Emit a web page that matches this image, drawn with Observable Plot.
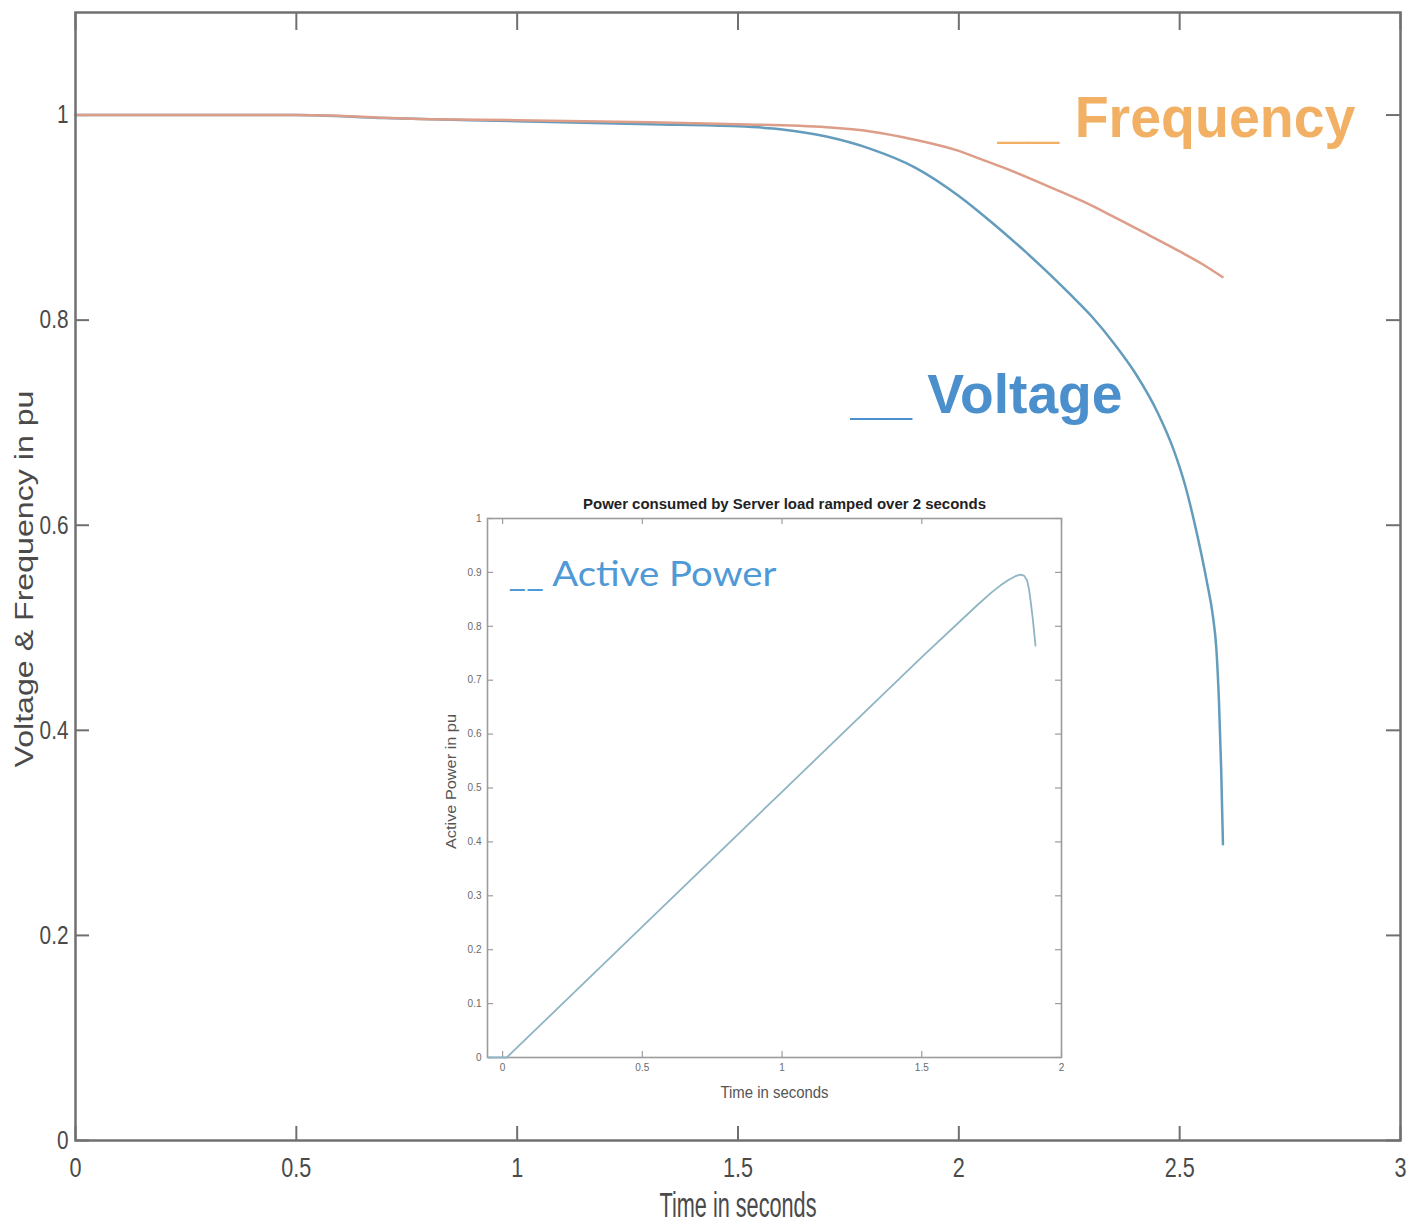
<!DOCTYPE html>
<html>
<head>
<meta charset="utf-8">
<script src="https://cdn.jsdelivr.net/npm/d3@7"></script>
<script src="https://cdn.jsdelivr.net/npm/@observablehq/plot@0.6"></script>
<style>
  body { margin: 0; background: #fff; }
  #chart { position: relative; width: 1421px; height: 1224px; background: #fff; }
  #chart svg { overflow: visible; }
  #inset { position: absolute; left: 420px; top: 480px; }
</style>
</head>
<body>
<div id="chart"></div>
<script>
// ---- Bus voltage and frequency during the load ramp (per unit) ----
const timeVoltage = [0, 0.5, 0.7, 1.0, 1.3, 1.5, 1.6, 1.7, 1.8, 1.9, 2.0, 2.05, 2.1, 2.15, 2.2, 2.25, 2.3, 2.35, 2.4, 2.45, 2.486, 2.513, 2.54, 2.562, 2.575, 2.583, 2.589, 2.594, 2.598];
const voltage     = [1.0, 1.0, 0.997, 0.994, 0.991, 0.989, 0.986, 0.979, 0.967, 0.949, 0.921, 0.904, 0.886, 0.867, 0.847, 0.826, 0.804, 0.778, 0.748, 0.710, 0.674, 0.638, 0.590, 0.544, 0.512, 0.480, 0.428, 0.362, 0.289];

const timeFrequency = [0, 0.5, 0.8, 1.0, 1.3, 1.5, 1.7, 1.8, 1.9, 2.0, 2.05, 2.1, 2.2, 2.28, 2.35, 2.43, 2.5, 2.55, 2.597];
const frequency     = [1.0, 1.0, 0.996, 0.995, 0.993, 0.991, 0.988, 0.984, 0.976, 0.965, 0.957, 0.949, 0.931, 0.916, 0.901, 0.883, 0.867, 0.855, 0.842];

// ---- Active power drawn by the server load ----
const timePower   = [-0.05, 0.015, 0.5, 1.0, 1.5, 1.7, 1.75, 1.782, 1.81, 1.835, 1.853, 1.866, 1.877, 1.884, 1.89, 1.897, 1.907];
const activePower = [0, 0, 0.243, 0.493, 0.743, 0.840, 0.863, 0.876, 0.886, 0.893, 0.896, 0.894, 0.885, 0.868, 0.845, 0.815, 0.764];

// ---- Tick values ----
const mainTimeTicks  = [0, 0.5, 1, 1.5, 2, 2.5, 3];
const mainLevelTicks = [0, 0.2, 0.4, 0.6, 0.8, 1];
const insetTimeTicks  = [0, 0.5, 1, 1.5, 2];
const insetPowerTicks = [0, 0.1, 0.2, 0.3, 0.4, 0.5, 0.6, 0.7, 0.8, 0.9, 1];

// ---- Text ----
const mainXLabel = "Time in seconds";
const mainYLabel = "Voltage & Frequency in pu";
const frequencyKey = "__ Frequency";
const voltageKey = "__ Voltage";
const insetTitle = "Power consumed by Server load ramped over 2 seconds";
const insetXLabel = "Time in seconds";
const insetYLabel = "Active Power in pu";
const powerKey = "__ Active Power";

const font = "'Liberation Sans', Arial, Helvetica, sans-serif";
const axisColor = "#707070";
const labelColor = "#4a4a4a";

// ---------------- main chart ----------------
const W = 1421, H = 1224;
const mL = 75, mR = 21, mT = 12, mB = 84;
const fW = W - mL - mR, fH = H - mT - mB;
const tick = 14;

const main = Plot.plot({
  width: W, height: H,
  marginLeft: mL, marginRight: mR, marginTop: mT, marginBottom: mB,
  x: {domain: [0, 3], axis: null},
  y: {domain: [0, 1.1], axis: null},
  style: {fontFamily: font, background: "white"},
  marks: [
    // inward ticks on all four sides
    Plot.tickX(mainTimeTicks, {x: d => d, insetTop: fH - tick, stroke: axisColor, strokeWidth: 2}),
    Plot.tickX(mainTimeTicks, {x: d => d, insetBottom: fH - tick - 4, stroke: axisColor, strokeWidth: 2}),
    Plot.tickY(mainLevelTicks, {y: d => d, insetRight: fW - tick, stroke: axisColor, strokeWidth: 2}),
    Plot.tickY(mainLevelTicks, {y: d => d, insetLeft: fW - tick, stroke: axisColor, strokeWidth: 2}),
    Plot.line(voltage, {x: timeVoltage, y: voltage, stroke: "#639cbc", strokeWidth: 2.5, curve: "monotone-x"}),
    Plot.line(frequency, {x: timeFrequency, y: frequency, stroke: "#dd9d88", strokeWidth: 2.5, curve: "monotone-x"}),
    Plot.frame({stroke: axisColor, strokeWidth: 2.5}),
    // tick labels
    Plot.text(mainTimeTicks, {x: d => d, frameAnchor: "bottom", dy: 17, lineAnchor: "top", text: d => String(d),
      fontSize: 27, fill: labelColor}),
    Plot.text(mainLevelTicks, {y: d => d, frameAnchor: "left", dx: -7, textAnchor: "end", text: d => String(d),
      fontSize: 26, fill: labelColor}),
    // axis titles (the vertical one reads upward from its start)
    Plot.text([mainXLabel], {frameAnchor: "bottom", dy: 76, text: d => d, fontSize: 35, fill: labelColor}),
    Plot.text([mainYLabel], {frameAnchor: "left", dx: -51, dy: 191, rotate: -90, textAnchor: "start",
      text: d => d, fontSize: 25, fill: labelColor}),
    // series keys
    Plot.text([frequencyKey], {x: () => 2.0875, y: () => 0.9785, text: d => d, textAnchor: "start", lineAnchor: "bottom",
      fontSize: 57, fontWeight: "bold", fill: "#f1b064"}),
    Plot.text([voltageKey], {x: () => 1.7547, y: () => 0.7093, text: d => d, textAnchor: "start", lineAnchor: "bottom",
      fontSize: 56, fontWeight: "bold", fill: "#4b8fcc"})
  ]
});

// ---------------- inset: active power ----------------
const iW = 660, iH = 640;
const imL = 67, imR = 19, imT = 38, imB = 63;
const ifW = iW - imL - imR, ifH = iH - imT - imB;
const itick = 6;
const insetAxis = "#9c9c9c";
const insetLabel = "#6a6a6a";

const inset = Plot.plot({
  width: iW, height: iH,
  marginLeft: imL, marginRight: imR, marginTop: imT, marginBottom: imB,
  x: {domain: [-0.054, 2], axis: null},
  y: {domain: [0, 1], axis: null},
  style: {fontFamily: font, background: "white"},
  marks: [
    Plot.tickX(insetTimeTicks, {x: d => d, insetTop: ifH - itick, stroke: insetAxis, strokeWidth: 1.2}),
    Plot.tickX(insetTimeTicks, {x: d => d, insetBottom: ifH - itick, stroke: insetAxis, strokeWidth: 1.2}),
    Plot.tickY(insetPowerTicks, {y: d => d, insetRight: ifW - itick, stroke: insetAxis, strokeWidth: 1.2}),
    Plot.tickY(insetPowerTicks, {y: d => d, insetLeft: ifW - itick, stroke: insetAxis, strokeWidth: 1.2}),
    Plot.frame({stroke: insetAxis, strokeWidth: 1.6}),
    Plot.line(activePower, {x: timePower, y: activePower, stroke: "#8fb5c4", strokeWidth: 1.8}),
    Plot.text(insetTimeTicks, {x: d => d, frameAnchor: "bottom", dy: 6, lineAnchor: "top", text: d => String(d),
      fontSize: 10, fill: insetLabel}),
    Plot.text(insetPowerTicks, {y: d => d, frameAnchor: "left", dx: -6, textAnchor: "end", text: d => String(d),
      fontSize: 10, fill: insetLabel}),
    Plot.text([insetTitle], {frameAnchor: "top", dx: 10, dy: -19, text: d => d, fontSize: 14, fontWeight: "bold", fill: "#222"}),
    Plot.text([insetXLabel], {frameAnchor: "bottom", dy: 40, text: d => d, fontSize: 16, fill: "#555"}),
    Plot.text([insetYLabel], {frameAnchor: "left", dx: -36, dy: 61, rotate: -90, textAnchor: "start",
      text: d => d, fontSize: 14, fill: "#555"}),
    Plot.text([powerKey], {x: () => 0.0214, y: () => 0.874, text: d => d, textAnchor: "start", lineAnchor: "bottom",
      fontFamily: "Lato, 'Open Sans', sans-serif", fontSize: 34, fill: "#4f9ad6"})
  ]
});
inset.id = "inset";

const chart = document.getElementById("chart");
chart.appendChild(main);
chart.appendChild(inset);

// Text in this figure is set narrow: fit each label to its measured width.
function setLength(t, width) {
  t.setAttribute("textLength", width);
  t.setAttribute("lengthAdjust", "spacingAndGlyphs");
}
function fitWidth(svg, content, width) {
  svg.querySelectorAll("text").forEach(t => { if (t.textContent === content) setLength(t, width); });
}
function condenseNumbers(svg, factor) {
  svg.querySelectorAll("text").forEach(t => {
    if (/^[0-9.]+$/.test(t.textContent)) setLength(t, t.getComputedTextLength() * factor);
  });
}
condenseNumbers(main, 0.8);
fitWidth(main, mainXLabel, 157);
fitWidth(main, mainYLabel, 377);
fitWidth(main, frequencyKey, 358);
fitWidth(main, voltageKey, 272);
fitWidth(inset, insetTitle, 403);
fitWidth(inset, insetXLabel, 108);
fitWidth(inset, insetYLabel, 135);
fitWidth(inset, powerKey, 268);
</script>
</body>
</html>
